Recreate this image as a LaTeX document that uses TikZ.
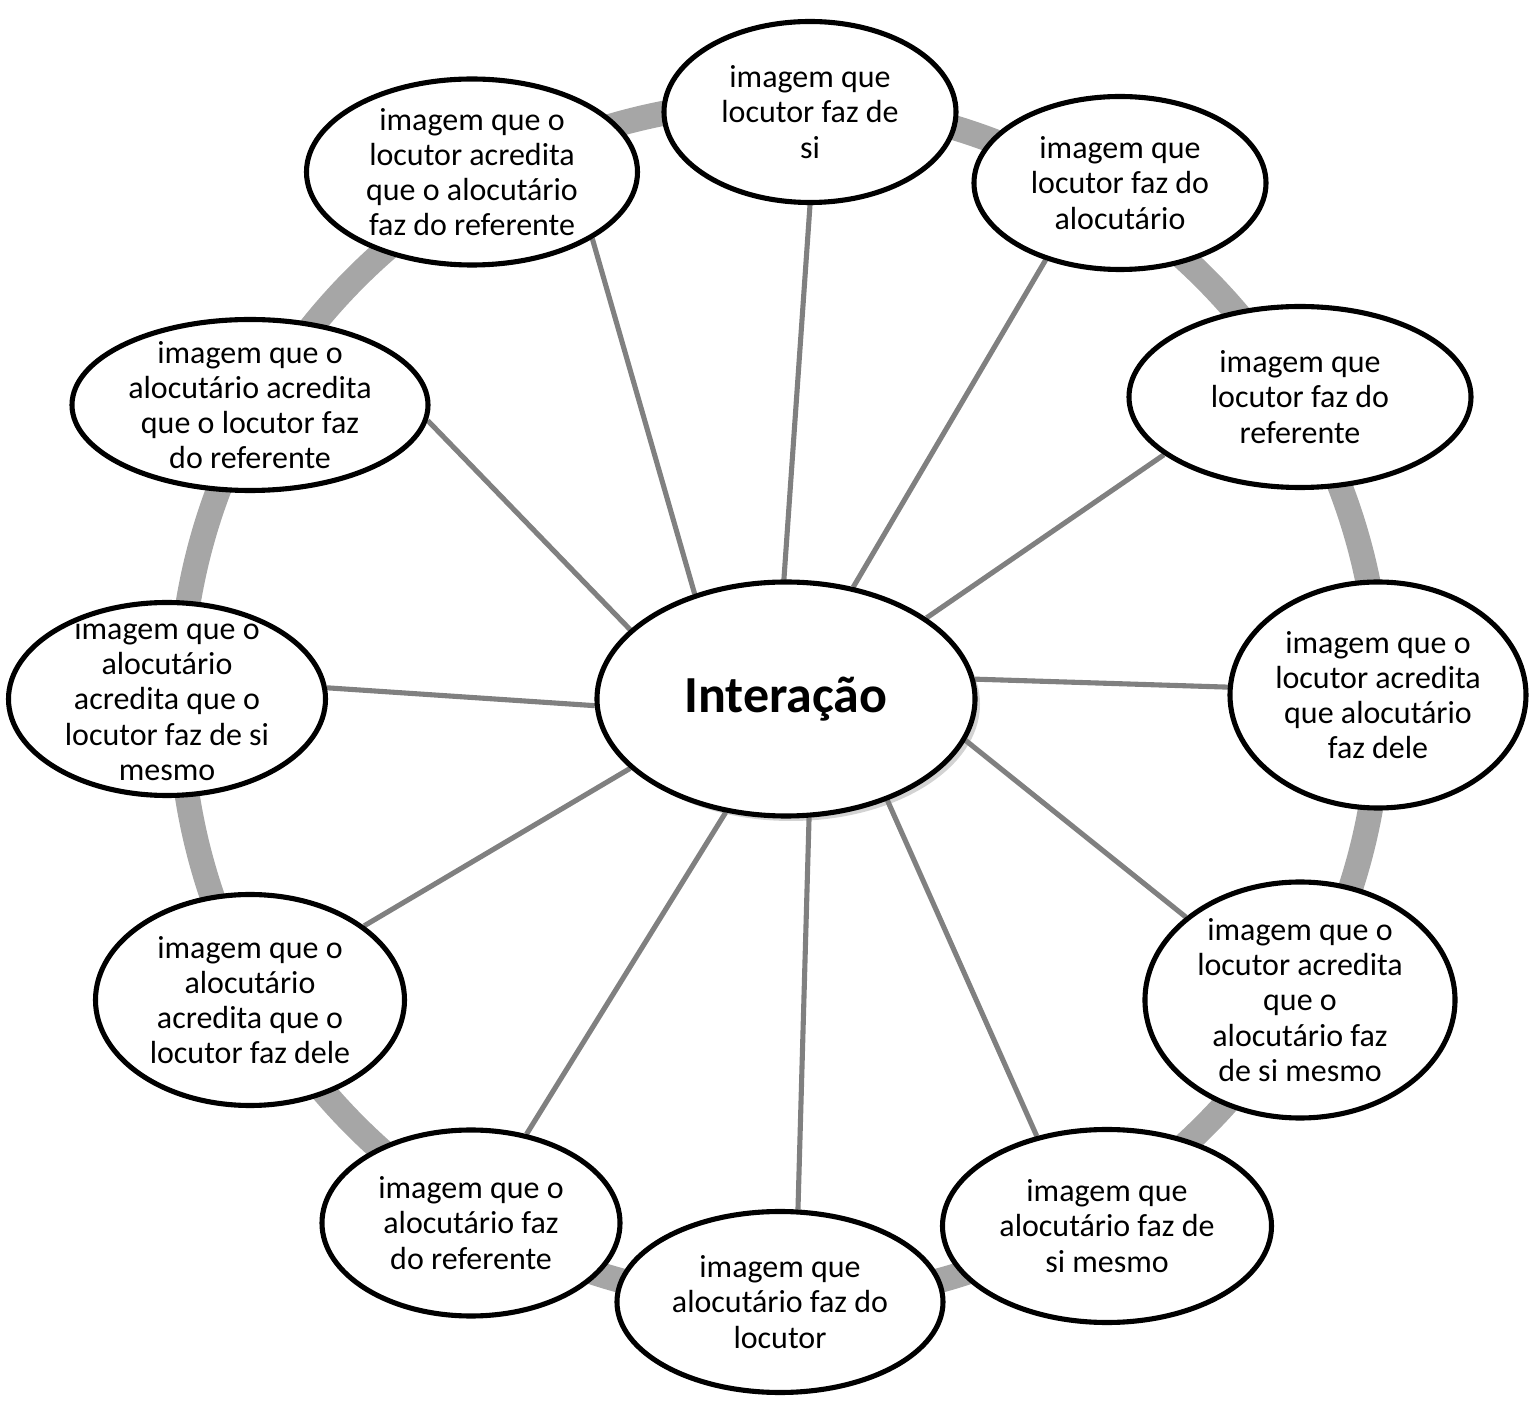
\documentclass[tikz,border=0pt]{standalone}
\usepackage{fontspec}
\setmainfont{Carlito}
\usepackage{tikz}
\usetikzlibrary{shapes.geometric,
                shadows,
                backgrounds}
\definecolor{ringgray}{RGB}{166,166,166}
\definecolor{spokegray}{RGB}{128,128,128}

\begin{document}
\begin{tikzpicture}[
  bubble/.style={ellipse, draw=black, line width=1.45pt, fill=white, align=center,
    inner xsep=-0.5cm, inner ysep=-0.5cm, font=\fontsize{9.1}{10}\selectfont},
  hub/.style={bubble, font=\fontsize{14.8}{16}\selectfont\bfseries,
    drop shadow={shadow xshift=0.05cm, shadow yshift=-0.05cm, opacity=0.35}},
  spoke/.style={spokegray, line width=1.45pt}]
\useasboundingbox (0,0) rectangle (15.29,14.02);
\node[hub, minimum width=3.78cm, minimum height=2.34cm] (c) at (7.86,7.03) {Interação};
\foreach \n/\x/\y/\w/\h/\t in {
  o1/8.10/12.90/2.92/1.81/{imagem que\\locutor faz de\\si},
  o2/11.20/12.19/2.92/1.73/{imagem que\\locutor faz do\\alocutário},
  o3/13.00/10.05/3.42/1.81/{imagem que\\locutor faz do\\referente},
  o4/13.78/7.07/2.96/2.26/{imagem que o\\locutor acredita\\que alocutário\\faz dele},
  o5/13.00/4.02/3.10/2.36/{imagem que o\\locutor acredita\\que o\\alocutário faz\\de si mesmo},
  o6/11.07/1.76/3.29/1.93/{imagem que\\alocutário faz de\\si mesmo},
  o7/7.80/1.00/3.26/1.81/{imagem que\\alocutário faz do\\locutor},
  o8/4.71/1.79/2.98/1.86/{imagem que o\\alocutário faz\\do referente},
  o9/2.50/4.02/3.09/2.11/{imagem que o\\alocutário\\acredita que o\\locutor faz dele},
  o10/1.67/7.03/3.17/1.93/{imagem que o\\alocutário\\acredita que o\\locutor faz de si\\mesmo},
  o11/2.50/9.97/3.56/1.71/{imagem que o\\alocutário acredita\\que o locutor faz\\do referente},
  o12/4.72/12.30/3.31/1.86/{imagem que o\\locutor acredita\\que o alocutário\\faz do referente}}
  \node[bubble, minimum width=\w cm, minimum height=\h cm] (\n) at (\x,\y) {\t};
\begin{scope}[on background layer]
\draw[ringgray, line width=0.25cm] (7.80,7.00) circle (6.00);
\foreach \n/\a/\b in {o1/91/-90, o2/59/-134, o3/30/-157, o4/6/177,
                      o5/-13/144, o6/-45/128, o7/-79/79, o8/-118/58,
                      o9/-156/33, o10/-178/4, o11/156/-5, o12/131/-29}
  \draw[spoke] (c.\a) -- (\n.\b);
\end{scope}
\end{tikzpicture}
\end{document}
